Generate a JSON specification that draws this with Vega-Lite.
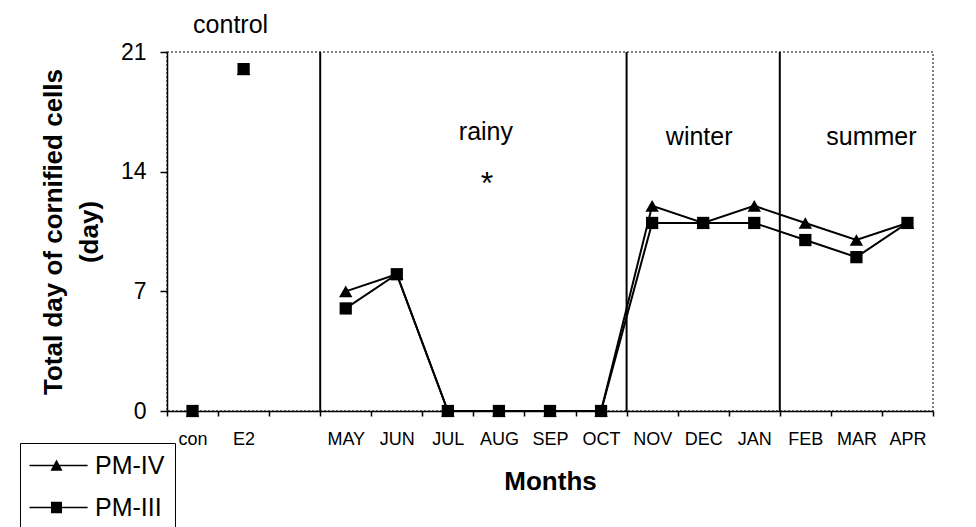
{
  "$schema": "https://vega.github.io/schema/vega-lite/v6.json",
  "width": 766,
  "height": 359,
  "autosize": {"type": "none"},
  "padding": {"left": 167, "top": 52, "right": 43, "bottom": 116},
  "background": "white",
  "config": {
    "font": "Liberation Sans",
    "view": {"stroke": "#555555", "strokeDash": [2, 2], "strokeWidth": 1.5}
  },
  "datasets": {
    "main": [
      {"m": "con", "s": "PM-IV", "v": 0, "g": "c"},
      {"m": "E2", "s": "PM-IV", "v": 20, "g": "c"},
      {"m": "MAY", "s": "PM-IV", "v": 7, "g": "m"},
      {"m": "JUN", "s": "PM-IV", "v": 8, "g": "m"},
      {"m": "JUL", "s": "PM-IV", "v": 0, "g": "m"},
      {"m": "AUG", "s": "PM-IV", "v": 0, "g": "m"},
      {"m": "SEP", "s": "PM-IV", "v": 0, "g": "m"},
      {"m": "OCT", "s": "PM-IV", "v": 0, "g": "m"},
      {"m": "NOV", "s": "PM-IV", "v": 12, "g": "m"},
      {"m": "DEC", "s": "PM-IV", "v": 11, "g": "m"},
      {"m": "JAN", "s": "PM-IV", "v": 12, "g": "m"},
      {"m": "FEB", "s": "PM-IV", "v": 11, "g": "m"},
      {"m": "MAR", "s": "PM-IV", "v": 10, "g": "m"},
      {"m": "APR", "s": "PM-IV", "v": 11, "g": "m"},
      {"m": "con", "s": "PM-III", "v": 0, "g": "c"},
      {"m": "E2", "s": "PM-III", "v": 20, "g": "c"},
      {"m": "MAY", "s": "PM-III", "v": 6, "g": "m"},
      {"m": "JUN", "s": "PM-III", "v": 8, "g": "m"},
      {"m": "JUL", "s": "PM-III", "v": 0, "g": "m"},
      {"m": "AUG", "s": "PM-III", "v": 0, "g": "m"},
      {"m": "SEP", "s": "PM-III", "v": 0, "g": "m"},
      {"m": "OCT", "s": "PM-III", "v": 0, "g": "m"},
      {"m": "NOV", "s": "PM-III", "v": 11, "g": "m"},
      {"m": "DEC", "s": "PM-III", "v": 11, "g": "m"},
      {"m": "JAN", "s": "PM-III", "v": 11, "g": "m"},
      {"m": "FEB", "s": "PM-III", "v": 10, "g": "m"},
      {"m": "MAR", "s": "PM-III", "v": 9, "g": "m"},
      {"m": "APR", "s": "PM-III", "v": 11, "g": "m"}
    ],
    "bounds": [{"m": "MAY"}, {"m": "NOV"}, {"m": "FEB"}],
    "notes": [
      {"m": "E2", "v": 22.6, "t": "control", "k": "a"},
      {"m": "AUG", "v": 16.3, "t": "rainy", "k": "a"},
      {"m": "DEC", "v": 16.0, "t": "winter", "k": "b"},
      {"m": "MAR", "v": 16.0, "t": "summer", "k": "c"},
      {"m": "AUG", "v": 13.3, "t": "*", "k": "d"}
    ]
  },
  "encoding": {
    "x": {
      "field": "m",
      "type": "nominal",
      "scale": {
        "domain": ["con", "E2", " ", "MAY", "JUN", "JUL", "AUG", "SEP", "OCT", "NOV", "DEC", "JAN", "FEB", "MAR", "APR"],
        "paddingInner": 0,
        "paddingOuter": 0
      },
      "axis": {
        "title": "Months",
        "titleFontSize": 26,
        "titleFontWeight": "bold",
        "titleColor": "black",
        "titlePadding": 20,
        "labelFontSize": 18,
        "labelColor": "black",
        "labelPadding": 14,
        "labelAngle": 0,
        "tickSize": 5,
        "tickBand": "extent",
        "tickColor": "black",
        "tickWidth": 1.5,
        "domainColor": "black",
        "domainWidth": 1.5,
        "grid": false
      }
    }
  },
  "layer": [
    {
      "data": {"name": "bounds"},
      "mark": {"type": "rule", "color": "black", "strokeWidth": 2},
      "encoding": {
        "x": {
          "field": "m",
          "type": "nominal",
          "bandPosition": 0
        }
      }
    },
    {
      "data": {"name": "main"},
      "transform": [{"filter": {"field": "g", "equal": "m"}}],
      "mark": {"type": "line", "color": "black", "strokeWidth": 2},
      "encoding": {
        "y": {
          "field": "v",
          "type": "quantitative",
          "scale": {"domain": [0, 21], "nice": false},
          "axis": {
            "values": [0, 7, 14, 21],
            "title": ["Total day of cornified cells", "(day)"],
            "titleFontSize": 26,
            "titleFontWeight": "bold",
            "titleColor": "black",
            "titleLineHeight": 36,
            "titlePadding": 18,
            "labelFontSize": 23,
            "labelColor": "black",
            "labelPadding": 14,
            "tickSize": 7,
            "tickColor": "black",
            "tickWidth": 1.5,
            "domainColor": "black",
            "domainWidth": 1.5,
            "grid": false
          }
        },
        "detail": {"field": "s", "type": "nominal"},
        "order": {"value": null}
      }
    },
    {
      "data": {"name": "main"},
      "transform": [{"filter": {"field": "s", "equal": "PM-IV"}}],
      "mark": {"type": "point", "shape": "triangle-up", "filled": true, "color": "black", "opacity": 1, "size": 180},
      "encoding": {
        "y": {"field": "v", "type": "quantitative"}
      }
    },
    {
      "data": {"name": "main"},
      "transform": [{"filter": {"field": "s", "equal": "PM-III"}}],
      "mark": {"type": "point", "shape": "square", "filled": true, "color": "black", "opacity": 1, "size": 150},
      "encoding": {
        "y": {"field": "v", "type": "quantitative"}
      }
    },
    {
      "data": {"name": "main"},
      "transform": [{"filter": "false"}],
      "mark": {"type": "point", "filled": true, "color": "black", "opacity": 1},
      "encoding": {
        "y": {"field": "v", "type": "quantitative"},
        "shape": {
          "field": "s",
          "type": "nominal",
          "scale": {
            "domain": ["PM-IV", "PM-III"],
            "range": [
              "M-1.86,-0.1H6.44V0.1H-1.86ZM1.14,0.75L2.0,-0.86L2.86,0.75Z",
              "M-1.86,-0.1H6.44V0.1H-1.86ZM1.21,-0.82H2.79V0.82H1.21Z"
            ]
          },
          "legend": {
            "orient": "none",
            "legendX": -147,
            "legendY": 391,
            "title": null,
            "strokeColor": "black",
            "fillColor": "white",
            "padding": 10,
            "labelFontSize": 25,
            "labelColor": "black",
            "labelFont": "Liberation Sans",
            "labelOffset": 40,
            "symbolSize": 196,
            "symbolStrokeWidth": 0,
            "symbolFillColor": "black",
            "rowPadding": 16
          }
        }
      }
    },
    {
      "data": {"name": "notes"},
      "transform": [{"filter": {"field": "k", "equal": "a"}}],
      "mark": {"type": "text", "fontSize": 25, "color": "black", "baseline": "middle", "align": "center", "dx": -13},
      "encoding": {
        "y": {"field": "v", "type": "quantitative"},
        "text": {"field": "t", "type": "nominal"}
      }
    },
    {
      "data": {"name": "notes"},
      "transform": [{"filter": {"field": "k", "equal": "d"}}],
      "mark": {"type": "text", "fontSize": 32, "color": "black", "baseline": "middle", "align": "center", "dx": -12},
      "encoding": {
        "y": {"field": "v", "type": "quantitative"},
        "text": {"field": "t", "type": "nominal"}
      }
    },
    {
      "data": {"name": "notes"},
      "transform": [{"filter": {"field": "k", "equal": "b"}}],
      "mark": {"type": "text", "fontSize": 25, "color": "black", "baseline": "middle", "align": "center", "dx": -4},
      "encoding": {
        "y": {"field": "v", "type": "quantitative"},
        "text": {"field": "t", "type": "nominal"}
      }
    },
    {
      "data": {"name": "notes"},
      "transform": [{"filter": {"field": "k", "equal": "c"}}],
      "mark": {"type": "text", "fontSize": 25, "color": "black", "baseline": "middle", "align": "center", "dx": 15},
      "encoding": {
        "y": {"field": "v", "type": "quantitative"},
        "text": {"field": "t", "type": "nominal"}
      }
    }
  ]
}
